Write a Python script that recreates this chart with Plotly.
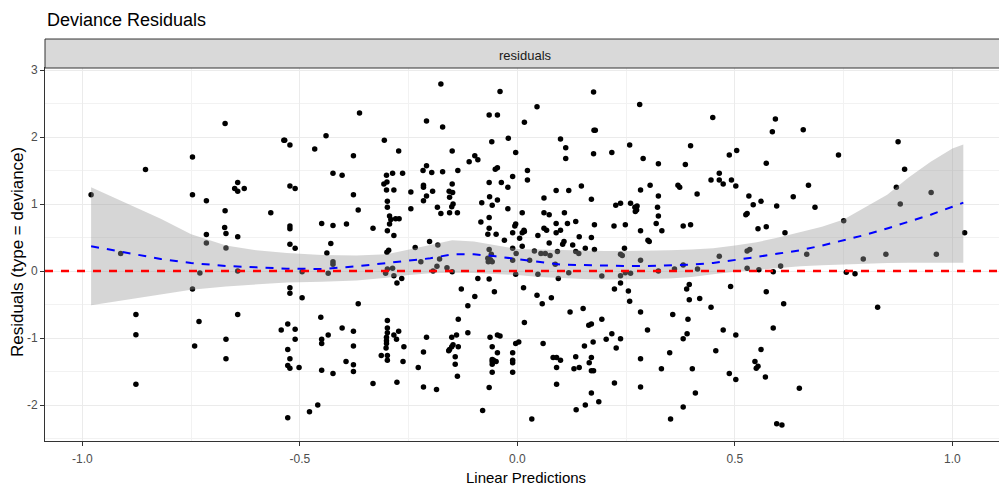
import plotly.graph_objects as go

# ---------------- data ----------------
pred = [
 -0.672,-0.535,-0.855,-0.747,-0.980,-0.747,-0.715,-0.643,-0.650,-0.643,-0.628,-0.672,-0.567,-0.673,-0.670,-0.715,-0.643,-0.715,-0.670,-0.912,
 -0.73,-0.643,-0.747,-0.877,-0.877,-0.877,-0.732,-0.742,-0.643,-0.670,-0.670,-0.543,
 -0.176,-0.040,-0.363,-0.209,-0.172,-0.065,-0.046,-0.537,-0.523,-0.440,-0.466,-0.306,-0.273,-0.377,-0.424,-0.403,-0.301,-0.287,-0.264,-0.307,
 -0.300,-0.301,-0.284,-0.299,-0.299,-0.294,-0.291,-0.280,-0.272,-0.294,-0.299,-0.284,-0.523,-0.511,-0.377,-0.366,-0.523,-0.523,-0.450,-0.424,
 -0.393,-0.332,-0.523,-0.511,-0.429,-0.438,-0.424,-0.300,-0.296,-0.245,-0.245,-0.235,-0.202,-0.183,-0.217,-0.209,-0.197,-0.172,-0.216,-0.216,
 -0.195,-0.209,-0.216,-0.150,-0.137,-0.111,-0.098,-0.091,-0.150,-0.157,-0.149,-0.156,-0.148,-0.151,-0.184,-0.176,-0.156,-0.138,-0.059,-0.021,
 -0.004,-0.051,-0.046,-0.065,-0.037,-0.011,-0.022,-0.064,-0.058,-0.046,-0.082,-0.065,-0.022,-0.084,-0.065,-0.068,-0.049,-0.004,-0.006,-0.011,
 -0.030,-0.011,-0.065,-0.060,-0.068,-0.062,-0.003,-0.011,0.005,
 -0.424,-0.495,-0.435,-0.303,-0.299,-0.287,-0.284,-0.277,-0.266,-0.222,-0.194,-0.185,-0.179,-0.162,-0.150,-0.067,-0.058,-0.004,-0.523,-0.523,
 -0.495,-0.528,-0.511,-0.511,-0.528,-0.523,-0.528,-0.523,-0.502,-0.528,-0.478,-0.459,-0.452,-0.435,-0.450,-0.450,-0.450,-0.424,-0.403,-0.377,
 -0.377,-0.394,-0.377,-0.377,-0.366,-0.332,-0.299,-0.299,-0.299,-0.301,-0.301,-0.301,-0.302,-0.313,-0.299,-0.299,-0.284,-0.273,-0.278,-0.261,
 -0.263,-0.277,-0.209,-0.216,-0.228,-0.216,-0.186,-0.129,-0.098,-0.114,-0.136,-0.114,-0.151,-0.140,-0.148,-0.151,-0.156,-0.158,-0.136,-0.143,
 -0.143,-0.138,-0.091,-0.065,-0.053,-0.063,-0.046,-0.040,-0.058,-0.046,-0.058,-0.058,-0.058,-0.055,-0.049,-0.058,-0.065,-0.080,-0.011,-0.011,
 -0.011,-0.011,-0.004,0.003,
 0.175,0.281,0.045,0.016,0.449,0.176,0.179,0.099,0.111,0.111,0.175,0.217,0.258,0.289,0.324,0.398,0.386,0.504,0.487,0.023,
 0.023,0.464,0.464,0.445,0.473,0.492,0.502,0.369,0.373,0.305,0.283,0.413,0.532,0.525,0.528,0.147,0.089,0.118,0.061,0.170,
 0.324,0.226,0.237,0.260,0.270,0.274,0.271,0.275,0.322,0.324,0.011,0.061,0.073,0.108,0.089,0.115,0.134,0.177,0.222,0.248,
 0.319,0.332,0.283,0.381,0.398,0.061,0.067,0.099,0.089,0.015,0.011,0.016,0.047,0.142,0.170,0.073,0.107,0.104,0.127,0.156,
 0.177,0.246,0.300,0.303,0.011,0.039,0.054,0.064,0.075,0.092,0.134,0.141,0.237,0.241,0.283,0.028,0.464,0.528,0.534,
 0.087,0.047,0.094,0.118,0.194,0.248,0.237,0.260,0.324,0.361,0.381,0.414,0.528,0.014,0.045,0.057,0.078,0.223,0.237,0.255,
 0.258,0.389,0.395,0.395,0.419,0.490,0.445,0.016,0.121,0.151,0.164,0.170,0.194,0.283,0.299,0.357,0.392,0.390,0.381,0.473,
 0.502,0.456,0.059,0.174,0.204,0.217,0.237,0.227,0.154,0.082,0.090,0.099,0.090,0.134,0.170,0.165,0.130,0.142,0.170,0.175,
 0.283,0.331,0.350,0.402,0.090,0.223,0.283,0.170,0.187,0.156,0.135,0.033,0.409,0.381,0.352,0.487,0.502,
 0.593,0.586,0.657,0.875,0.738,0.572,0.890,0.669,0.871,0.634,0.951,0.560,0.542,0.596,0.684,0.880,0.553,0.572,0.615,0.750,
 1.028,0.665,0.795,0.847,0.963,
 0.555,0.588,0.605,0.756,0.776,0.572,0.612,0.828,0.588,0.560,0.546,0.549,0.553,0.570,0.648,0.596,0.608,
]
resid = [
 2.20,1.95,1.515,1.70,1.14,1.14,1.05,1.32,1.23,1.19,1.23,0.90,0.87,0.65,0.56,0.545,0.51,0.42,0.345,0.26,
 -0.03,0.0,-0.27,-0.65,-0.95,-1.69,-0.755,-1.12,-0.65,-1.02,-1.31,-0.88,
 2.79,2.68,2.36,2.24,2.15,2.33,2.33,1.95,1.88,2.02,1.82,1.95,1.79,1.72,1.46,1.43,1.43,1.46,1.46,1.30,
 1.33,1.21,1.21,1.04,0.95,0.82,0.77,0.78,0.78,0.70,0.60,0.53,1.27,1.23,1.14,0.91,0.67,0.63,0.71,0.68,
 0.70,0.64,0.40,0.34,0.41,0.27,0.14,0.28,0.31,1.18,0.93,0.35,0.44,0.39,1.50,1.57,1.47,1.48,1.28,1.25,
 1.19,1.12,1.05,1.79,1.50,1.63,1.72,1.66,1.30,1.19,1.17,1.10,1.00,0.96,0.95,0.86,0.87,0.87,1.93,1.98,
 1.77,1.52,1.54,1.32,1.32,1.41,1.25,1.11,0.98,1.06,1.02,0.80,0.93,0.73,0.64,0.55,0.55,0.70,0.67,0.57,
 0.46,0.34,0.32,0.25,0.19,0.17,0.26,0.16,0.49,
 0.10,-0.01,-0.035,-0.035,0.03,0.04,-0.07,-0.18,-0.11,0.14,0.0,0.07,0.18,0.05,-0.01,0.14,0.14,-0.05,-0.25,-0.33,
 -0.40,-0.79,-0.87,-1.02,-1.17,-1.31,-1.41,-1.45,-1.44,-2.19,-2.10,-2.00,-0.69,-0.955,-1.02,-1.08,-1.48,-1.53,-0.85,-0.90,
 -1.12,-1.35,-1.40,-1.50,-0.49,-1.68,-0.74,-0.85,-0.92,-0.99,-1.04,-1.08,-1.15,-1.26,-1.26,-1.33,-0.955,-0.90,-1.02,-1.13,
 -1.35,-1.66,-0.99,-1.21,-1.44,-1.73,-1.77,-0.27,-0.38,-0.52,-0.72,-0.92,-0.99,-0.955,-1.10,-1.13,-1.17,-1.19,-1.13,-1.28,
 -1.39,-1.57,-0.11,-0.12,-0.31,-0.99,-0.955,-0.97,-1.13,-1.22,-1.32,-1.35,-1.39,-1.33,-1.35,-1.51,-1.74,-2.08,-1.22,-1.33,
 -1.37,-1.51,-1.08,-1.06,
 2.67,2.485,2.45,2.22,2.29,2.10,2.10,1.97,1.84,1.68,1.75,1.77,1.88,1.68,1.60,1.87,1.59,1.80,1.73,1.50,
 1.36,1.46,1.36,1.36,1.30,1.36,1.27,1.28,1.25,1.28,1.21,1.15,1.12,0.84,0.86,1.27,1.20,1.20,1.09,1.07,
 1.12,0.98,1.01,1.01,0.95,0.91,0.89,0.97,0.95,0.82,0.87,0.87,0.84,0.87,0.71,0.71,0.74,0.69,0.67,0.69,
 0.71,0.60,0.60,0.67,0.69,0.64,0.61,0.61,0.57,0.61,0.57,0.59,0.53,0.51,0.50,0.42,0.44,0.40,0.39,0.34,
 0.32,0.34,0.46,0.44,0.37,0.30,0.26,0.26,0.23,0.29,0.29,0.26,0.25,0.23,0.16,0.16,0.22,0.30,0.32,
 0.10,-0.05,-0.11,-0.025,-0.075,-0.025,-0.07,-0.035,0.0,0.03,0.09,0.03,0.04,-0.25,-0.36,-0.49,-0.40,-0.27,-0.18,-0.30,
 -0.45,-0.27,-0.20,-0.43,-0.41,-0.23,-0.54,-0.77,-0.61,-0.56,-0.81,-0.79,-0.72,-0.61,-0.88,-0.65,-0.72,-0.935,-1.01,-0.88,
 -0.955,-1.19,-1.08,-1.06,-1.02,-0.935,-1.01,-1.15,-1.12,-1.29,-1.29,-1.33,-1.44,-1.28,-1.29,-1.37,-1.46,-1.44,-1.49,-1.49,
 -1.31,-1.46,-1.22,-1.46,-1.69,-1.67,-1.73,-1.82,-1.95,-2.00,-2.07,-2.21,-1.82,-2.03,-2.21,-1.53,-1.62,
 2.27,2.08,2.11,1.93,1.73,1.61,1.52,1.28,1.25,1.11,1.17,1.04,0.99,0.97,0.95,1.00,0.63,0.66,0.57,0.75,
 0.57,0.25,0.18,0.25,0.25,
 0.02,-0.01,0.075,-0.02,-0.04,-0.31,-0.49,-0.54,-0.85,-1.17,-1.35,-1.45,-1.42,-1.58,-1.75,-2.28,-2.30,
]

smooth_x = [-0.98,-0.9,-0.82,-0.75,-0.67,-0.6,-0.53,-0.45,-0.37,-0.3,-0.25,-0.2,-0.15,-0.1,-0.05,0.0,0.05,0.1,0.15,0.2,
            0.25,0.3,0.35,0.4,0.45,0.5,0.55,0.6,0.65,0.7,0.75,0.8,0.85,0.9,0.95,1.0,1.025]
smooth_fit = [0.37,0.27,0.18,0.12,0.075,0.055,0.035,0.03,0.07,0.12,0.15,0.19,0.25,0.25,0.22,0.18,0.13,0.095,0.09,0.08,
              0.075,0.075,0.085,0.095,0.12,0.16,0.21,0.26,0.31,0.38,0.455,0.54,0.635,0.735,0.84,0.96,1.02]
smooth_hi = [1.25,1.02,0.78,0.55,0.38,0.31,0.27,0.24,0.23,0.25,0.32,0.40,0.46,0.44,0.39,0.33,0.32,0.31,0.31,0.30,
             0.30,0.30,0.31,0.32,0.34,0.38,0.43,0.50,0.58,0.66,0.77,0.95,1.14,1.40,1.63,1.83,1.89]
smooth_lo = [-0.51,-0.43,-0.35,-0.28,-0.23,-0.20,-0.17,-0.16,-0.14,-0.10,-0.06,-0.035,-0.025,-0.03,-0.04,-0.06,-0.09,-0.11,-0.12,-0.125,
             -0.125,-0.12,-0.11,-0.09,-0.05,-0.01,0.015,0.045,0.07,0.085,0.10,0.11,0.12,0.125,0.125,0.125,0.125]

ref_level = 0
x_ticks = [-1.0, -0.5, 0.0, 0.5, 1.0]
x_tick_labels = ["-1.0", "-0.5", "0.0", "0.5", "1.0"]
x_minor = [-0.75, -0.25, 0.25, 0.75]
y_ticks = [-2, -1, 0, 1, 2, 3]
y_tick_labels = ["-2", "-1", "0", "1", "2", "3"]
y_minor = [-2.5, -1.5, -0.5, 0.5, 1.5, 2.5]

FONT = "Liberation Sans, Arial, sans-serif"

fig = go.Figure()
fig.add_trace(go.Scatter(x=pred, y=resid, mode="markers",
                         marker=dict(color="black", size=5.5, line=dict(width=0)),
                         hoverinfo="skip", showlegend=False))
fig.add_trace(go.Scatter(x=smooth_x, y=smooth_lo, mode="lines", line=dict(width=0),
                         hoverinfo="skip", showlegend=False))
fig.add_trace(go.Scatter(x=smooth_x, y=smooth_hi, mode="lines", line=dict(width=0),
                         fill="tonexty", fillcolor="rgba(153,153,153,0.4)",
                         hoverinfo="skip", showlegend=False))
fig.add_trace(go.Scatter(x=smooth_x, y=smooth_fit, mode="lines",
                         line=dict(color="#0000FF", width=2, dash="8px,8px"),
                         hoverinfo="skip", showlegend=False))

# horizontal reference line
fig.add_shape(type="line", xref="paper", x0=0, x1=1, yref="y", y0=ref_level, y1=ref_level,
              line=dict(color="#FF0000", width=2.3, dash="8px,8px"), layer="above")
# facet strip
fig.add_shape(type="rect", xref="paper", x0=0, x1=1.0084, yref="paper", y0=1, y1=1.0777,
              fillcolor="#D9D9D9", line=dict(color="#333333", width=1), layer="above")

fig.add_annotation(text="residuals", xref="paper", x=0.504, yref="paper", y=1.0335,
                   showarrow=False, xanchor="center", yanchor="middle",
                   font=dict(family=FONT, size=13, color="#1A1A1A"))
fig.add_annotation(text="Deviance Residuals", xref="paper", x=0, xshift=0, yref="paper", y=1.128,
                   showarrow=False, xanchor="left", yanchor="middle",
                   font=dict(family=FONT, size=18, color="black"))
fig.add_annotation(text="Linear Predictions", xref="paper", x=0.504, yref="paper", y=-0.099,
                   showarrow=False, xanchor="center", yanchor="middle",
                   font=dict(family=FONT, size=15, color="black"))
fig.add_annotation(text="Residuals (type = deviance)", xref="paper", x=-0.0293, yref="paper", y=0.5067,
                   showarrow=False, xanchor="center", yanchor="middle", textangle=-90,
                   font=dict(family=FONT, size=17, color="black"))

fig.update_layout(
    width=999, height=489, autosize=False,
    margin=dict(l=45, r=0, t=68, b=48, pad=0),
    plot_bgcolor="white", paper_bgcolor="white",
    showlegend=False,
    font=dict(family=FONT),
    xaxis=dict(range=[-1.086, 1.107], tickvals=x_ticks, ticktext=x_tick_labels,
               showgrid=True, gridcolor="#EBEBEB", gridwidth=1.1,
               minor=dict(tickvals=x_minor, showgrid=True, gridcolor="#F2F2F2", gridwidth=0.6, ticklen=0),
               zeroline=False, showline=True, linecolor="#333333", linewidth=1, mirror=True,
               ticks="outside", ticklen=4, tickcolor="#333333", tickwidth=1, ticklabelstandoff=3,
               tickfont=dict(family=FONT, size=12, color="#4D4D4D")),
    yaxis=dict(range=[-2.537, 3.03], tickvals=y_ticks, ticktext=y_tick_labels,
               showgrid=True, gridcolor="#EBEBEB", gridwidth=1.1,
               minor=dict(tickvals=y_minor, showgrid=True, gridcolor="#F2F2F2", gridwidth=0.6, ticklen=0),
               zeroline=False, showline=True, linecolor="#333333", linewidth=1, mirror=False,
               ticks="outside", ticklen=4, tickcolor="#333333", tickwidth=1,
               tickfont=dict(family=FONT, size=12, color="#4D4D4D")),
)

fig.write_html("out.html")
